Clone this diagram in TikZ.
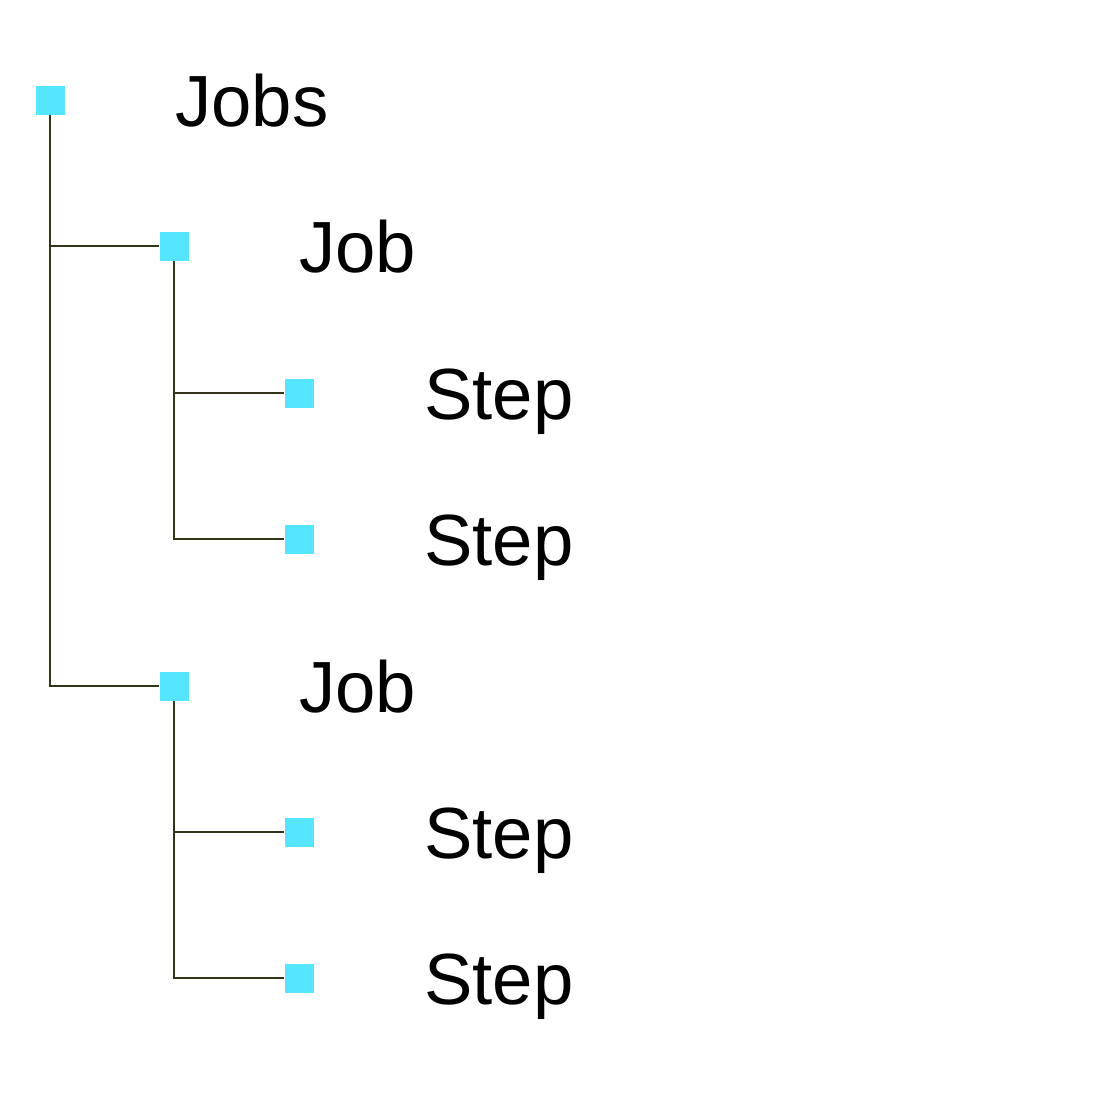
\documentclass[tikz,border=0pt]{standalone}
\usepackage{fontspec}
\setmainfont{Liberation Sans}
\definecolor{boxcyan}{HTML}{55E5FF}
\definecolor{treeline}{HTML}{33331A}
\tikzset{
  leafbox/.style={fill=boxcyan, draw=none, minimum size=29pt, inner sep=0pt},
  label text/.style={anchor=base west, inner sep=0pt, font=\fontsize{72.5}{80}\selectfont},
  branch/.style={draw=treeline, line width=2.5pt}
}
\begin{document}
\begin{tikzpicture}[x=1pt,y=-1pt]
\useasboundingbox (0,0) rectangle (1100,1100);
\node[leafbox] (jobs) at (50,100) {};
\node[label text] (jobsText) at (175,126) {Jobs};
\node[leafbox] (jobA) at (174,246) {};
\node[label text] (jobAText) at (299,272) {Job};
\node[leafbox] (stepA1) at (299,393) {};
\node[label text] (stepA1Text) at (424,419) {Step};
\node[leafbox] (stepA2) at (299,539) {};
\node[label text] (stepA2Text) at (424,565) {Step};
\node[leafbox] (jobB) at (174,686) {};
\node[label text] (jobBText) at (299,712) {Job};
\node[leafbox] (stepB1) at (299,832) {};
\node[label text] (stepB1Text) at (424,858) {Step};
\node[leafbox] (stepB2) at (299,978) {};
\node[label text] (stepB2Text) at (424,1004) {Step};
\draw[branch] (jobs.south) |- (jobB.west);
\draw[branch] (jobs.south |- jobA) -- (jobA.west);
\draw[branch] (jobA.south) |- (stepA2.west);
\draw[branch] (jobA.south |- stepA1) -- (stepA1.west);
\draw[branch] (jobB.south) |- (stepB2.west);
\draw[branch] (jobB.south |- stepB1) -- (stepB1.west);
\end{tikzpicture}
\end{document}
